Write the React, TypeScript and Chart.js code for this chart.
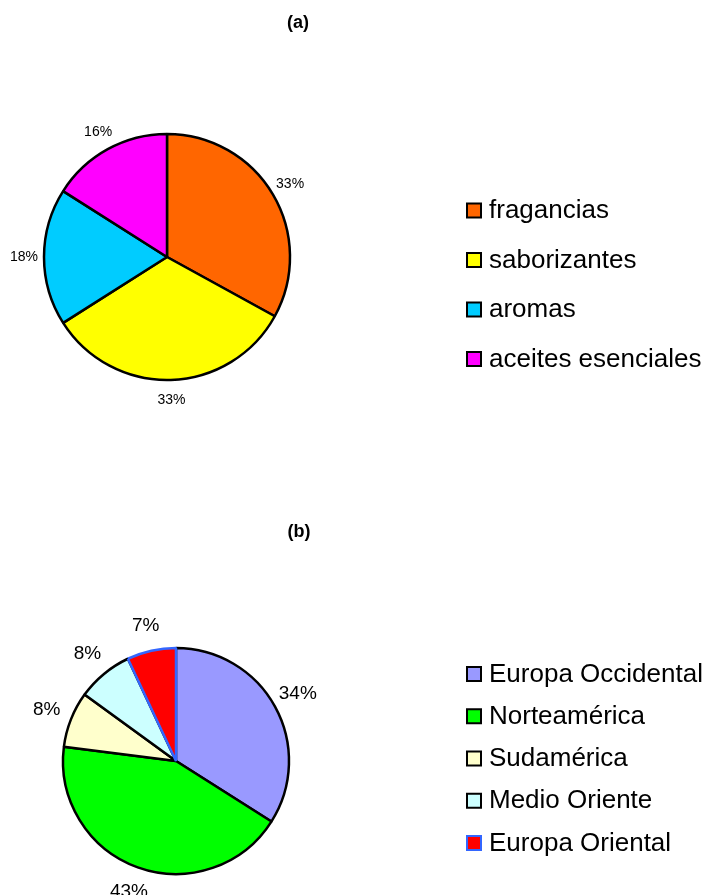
import React, { useEffect, useRef } from "react";
import { Chart, registerables } from "chart.js";

Chart.register(...registerables);

// (a) product segments
const productLabels = ["fragancias", "saborizantes", "aromas", "aceites esenciales"];
const productShares = [33, 33, 18, 16];
const productColors = ["#FF6600", "#FFFF00", "#00CCFF", "#FF00FF"];
const productBorders = ["#000000", "#000000", "#000000", "#000000"];

// (b) regional markets
const regionLabels = ["Europa Occidental", "Norteamérica", "Sudamérica", "Medio Oriente", "Europa Oriental"];
const regionShares = [34, 43, 8, 8, 7];
const regionColors = ["#9999FF", "#00FF00", "#FFFFCC", "#CCFFFF", "#FF0000"];
const regionBorders = ["#000000", "#000000", "#000000", "#000000", "#3366FF"];

const FONT = '"Liberation Sans", Arial, Helvetica, sans-serif';

type PieSpec = {
  title: string;
  labels: string[];
  values: number[];
  colors: string[];
  borders: string[];
  width: number;
  height: number;
  padding: { left: number; right: number; top: number; bottom: number };
  radius: number;
  titleX: number;
  titleY: number;
  labelSize: number;
  labelGap: number;
  legendX: number;
  legendTop: number;
  legendStep: number;
  legendSize: number;
};

function makeDecorPlugin(spec: PieSpec) {
  return {
    id: "pieDecor",
    afterDatasetsDraw(chart: any) {
      const ctx: CanvasRenderingContext2D = chart.ctx;
      const meta = chart.getDatasetMeta(0);
      const ds = chart.data.datasets[0];
      const values = ds.data as number[];
      const total = values.reduce((a, b) => a + b, 0);
      ctx.save();

      // percentage labels outside each slice
      ctx.fillStyle = "#000000";
      ctx.font = `${spec.labelSize}px ${FONT}`;
      ctx.textAlign = "center";
      ctx.textBaseline = "middle";
      meta.data.forEach((arc: any, i: number) => {
        const p = arc.getProps(["x", "y", "startAngle", "endAngle", "outerRadius"], true);
        const mid = (p.startAngle + p.endAngle) / 2;
        const r = p.outerRadius + spec.labelGap;
        const pct = Math.round((values[i] / total) * 100);
        ctx.fillText(`${pct}%`, p.x + Math.cos(mid) * r, p.y + Math.sin(mid) * r);
      });

      // title
      ctx.font = `bold 18px ${FONT}`;
      ctx.fillText(spec.title, spec.titleX, spec.titleY);

      // legend
      const labels = chart.data.labels as string[];
      const bg = ds.backgroundColor as string[];
      const bc = ds.borderColor as string[];
      ctx.textAlign = "left";
      ctx.textBaseline = "alphabetic";
      ctx.font = `${spec.legendSize}px ${FONT}`;
      labels.forEach((lab, i) => {
        const cy = spec.legendTop + i * spec.legendStep;
        ctx.fillStyle = bg[i];
        ctx.fillRect(spec.legendX + 1, cy - 7, 14, 14);
        ctx.lineWidth = 2;
        ctx.strokeStyle = bc[i];
        ctx.strokeRect(spec.legendX + 1, cy - 7, 14, 14);
        ctx.fillStyle = "#000000";
        ctx.fillText(lab, spec.legendX + 23, cy + 7.5);
      });
      ctx.restore();
    },
  };
}

function PieBlock({ spec }: { spec: PieSpec }) {
  const ref = useRef<HTMLCanvasElement | null>(null);
  useEffect(() => {
    if (!ref.current) return;
    const chart = new Chart(ref.current, {
      type: "pie",
      data: {
        labels: spec.labels,
        datasets: [
          {
            data: spec.values,
            backgroundColor: spec.colors,
            borderColor: spec.borders,
            borderWidth: 2.5,
          },
        ],
      },
      options: {
        responsive: false,
        animation: false,
        devicePixelRatio: 1,
        radius: spec.radius,
        layout: { padding: spec.padding },
        events: [],
        plugins: {
          legend: { display: false },
          title: { display: false },
          tooltip: { enabled: false },
        },
      } as any,
      plugins: [makeDecorPlugin(spec)],
    });
    return () => chart.destroy();
  }, [spec]);
  return <canvas ref={ref} width={spec.width} height={spec.height} style={{ display: "block", width: spec.width, height: spec.height }} />;
}

const specA: PieSpec = {
  title: "(a)",
  labels: productLabels,
  values: productShares,
  colors: productColors,
  borders: productBorders,
  width: 704,
  height: 447,
  padding: { left: 0, right: 370, top: 127, bottom: 60 },
  radius: 123,
  titleX: 298,
  titleY: 23,
  labelSize: 14,
  labelGap: 20,
  legendX: 466,
  legendTop: 210.5,
  legendStep: 49.5,
  legendSize: 26,
};

const specB: PieSpec = {
  title: "(b)",
  labels: regionLabels,
  values: regionShares,
  colors: regionColors,
  borders: regionBorders,
  width: 704,
  height: 448,
  padding: { left: 0, right: 352, top: 194, bottom: 14 },
  radius: 113,
  titleX: 299,
  titleY: 85,
  labelSize: 19,
  labelGap: 26,
  legendX: 466,
  legendTop: 227,
  legendStep: 42.25,
  legendSize: 26,
};

export default function App() {
  return (
    <div style={{ position: "absolute", left: 0, top: 0, width: 704, height: 895, background: "#ffffff" }}>
      <PieBlock spec={specA} />
      <PieBlock spec={specB} />
    </div>
  );
}
